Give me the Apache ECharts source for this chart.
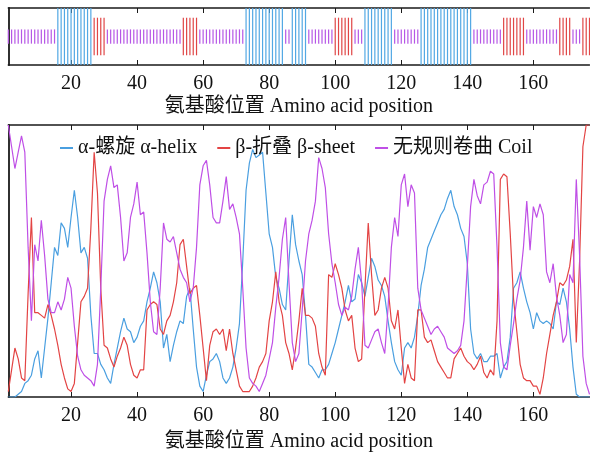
<!DOCTYPE html>
<html><head><meta charset="utf-8">
<script src="https://cdn.jsdelivr.net/npm/echarts@6/dist/echarts.min.js"></script>
<style>html,body{margin:0;padding:0;background:#fff}#c{width:590px;height:457px}</style>
</head><body><div id="c"></div>
<script>
// ---- data ----
const firstPosition = 1;
const lastPosition = 177;
const tickValues = [20, 40, 60, 80, 100, 120, 140, 160];
const axisTitle = '氨基酸位置 Amino acid position';
const seriesNames = ['α-螺旋 α-helix', 'β-折叠 β-sheet', '无规则卷曲 Coil'];

// secondary structure runs: [type, start, end]
const structureRuns = [
  ['C',1,15],['H',16,26],['E',27,30],['C',31,53],['E',54,58],['C',59,72],
  ['H',73,84],['C',85,86],['H',87,91],['C',92,99],['E',100,105],['C',106,108],
  ['H',109,117],['C',118,125],['H',126,141],['C',142,150],['E',151,157],
  ['C',158,167],['E',168,171],['C',172,174],['E',175,177]
];

const helix = [0.00,0.00,0.00,0.01,0.02,0.05,0.06,0.08,0.14,0.17,
0.07,0.18,0.29,0.42,0.55,0.52,0.64,0.62,0.55,0.66,
0.76,0.66,0.53,0.55,0.51,0.30,0.16,0.16,0.12,0.10,
0.07,0.05,0.12,0.18,0.24,0.29,0.25,0.24,0.20,0.22,
0.26,0.28,0.35,0.40,0.46,0.42,0.35,0.18,0.23,0.13,
0.19,0.24,0.28,0.27,0.37,0.40,0.25,0.11,0.04,0.02,
0.08,0.13,0.14,0.16,0.13,0.07,0.05,0.07,0.11,0.18,
0.27,0.50,0.76,0.86,0.91,0.88,0.89,0.90,0.75,0.60,
0.55,0.44,0.40,0.34,0.32,0.50,0.67,0.56,0.50,0.45,
0.30,0.12,0.11,0.09,0.07,0.10,0.10,0.12,0.16,0.20,
0.25,0.30,0.35,0.41,0.35,0.36,0.45,0.42,0.37,0.44,
0.51,0.48,0.43,0.41,0.37,0.28,0.20,0.13,0.10,0.08,
0.18,0.20,0.18,0.22,0.30,0.41,0.47,0.55,0.58,0.61,
0.64,0.67,0.69,0.73,0.76,0.70,0.67,0.62,0.59,0.49,
0.25,0.16,0.14,0.16,0.13,0.13,0.15,0.15,0.16,0.07,
0.11,0.13,0.22,0.40,0.42,0.46,0.40,0.35,0.31,0.25,
0.31,0.28,0.27,0.28,0.27,0.25,0.35,0.34,0.40,0.35,
0.25,0.11,0.01,0.00,0.00,0.00,0.00];

const sheet = [0.02,0.10,0.18,0.14,0.07,0.06,0.38,0.66,0.31,0.31,
0.30,0.29,0.34,0.30,0.25,0.19,0.12,0.07,0.03,0.02,
0.05,0.20,0.35,0.37,0.40,0.62,0.90,0.75,0.40,0.19,
0.18,0.14,0.11,0.15,0.18,0.22,0.19,0.12,0.08,0.07,
0.10,0.10,0.32,0.34,0.35,0.34,0.25,0.23,0.28,0.30,
0.35,0.42,0.56,0.58,0.48,0.38,0.40,0.41,0.30,0.18,
0.06,0.19,0.24,0.25,0.23,0.25,0.17,0.25,0.16,0.10,
0.04,0.02,0.02,0.02,0.04,0.07,0.11,0.13,0.16,0.28,
0.35,0.46,0.35,0.30,0.20,0.16,0.10,0.18,0.28,0.40,
0.30,0.30,0.29,0.26,0.16,0.11,0.08,0.45,0.44,0.49,
0.45,0.40,0.32,0.28,0.30,0.18,0.13,0.14,0.40,0.64,
0.45,0.30,0.32,0.40,0.44,0.40,0.28,0.25,0.32,0.18,
0.05,0.12,0.07,0.06,0.32,0.32,0.22,0.20,0.21,0.17,
0.13,0.11,0.09,0.07,0.07,0.14,0.16,0.18,0.15,0.13,
0.12,0.10,0.12,0.15,0.09,0.07,0.10,0.08,0.28,0.80,
0.82,0.81,0.60,0.36,0.24,0.12,0.07,0.06,0.06,0.04,
0.04,0.01,0.07,0.16,0.23,0.30,0.35,0.42,0.41,0.43,
0.48,0.58,0.20,0.50,0.92,1.00,1.00];

const coil = [1.00,0.92,0.84,0.90,0.96,0.90,0.55,0.28,0.56,0.50,
0.65,0.52,0.36,0.31,0.31,0.35,0.32,0.36,0.44,0.40,
0.26,0.15,0.10,0.08,0.07,0.06,0.04,0.12,0.40,0.72,
0.80,0.85,0.77,0.78,0.66,0.50,0.53,0.66,0.71,0.79,
0.67,0.68,0.53,0.35,0.24,0.23,0.40,0.64,0.58,0.57,
0.59,0.53,0.47,0.44,0.42,0.35,0.40,0.55,0.78,0.85,
0.87,0.78,0.66,0.64,0.64,0.72,0.81,0.69,0.71,0.66,
0.60,0.40,0.18,0.07,0.05,0.04,0.02,0.05,0.08,0.14,
0.20,0.33,0.44,0.58,0.66,0.42,0.20,0.13,0.16,0.32,
0.50,0.60,0.65,0.72,0.88,0.84,0.77,0.60,0.49,0.42,
0.34,0.30,0.33,0.32,0.37,0.47,0.55,0.42,0.19,0.18,
0.21,0.24,0.25,0.20,0.16,0.33,0.55,0.66,0.59,0.78,
0.82,0.70,0.78,0.75,0.40,0.32,0.29,0.26,0.23,0.25,
0.26,0.24,0.22,0.18,0.17,0.16,0.17,0.19,0.28,0.48,
0.70,0.80,0.74,0.71,0.78,0.79,0.83,0.82,0.55,0.20,
0.11,0.10,0.19,0.27,0.36,0.43,0.55,0.72,0.54,0.70,
0.66,0.71,0.67,0.46,0.42,0.49,0.37,0.30,0.20,0.23,
0.45,0.42,0.80,0.52,0.15,0.05,0.01];

// ---- styles ----
const FONT = "'Liberation Serif','Noto Sans CJK SC',serif";
const typeColor = {H:'#52a8e4', E:'#e04646', C:'#b657e6'};
const typeHalf = {H:1, E:0.66, C:0.25};
const lineColors = ['#4a9fe0', '#e34444', '#bf4fe6'];

// build structure list
const structure = [];
structureRuns.forEach(r => { for (let p = r[1]; p <= r[2]; p++) structure.push([p, r[0]]); });

const toXY = arr => arr.map((v, i) => [firstPosition + i, v]);

function xAx(gridIndex, position, main, gap) {
  return {
    type: 'value', gridIndex, position, min: firstPosition, max: lastPosition,
    axisLine: {show: true, onZero: false, lineStyle: {color: '#1a1a1a', width: 1.5}},
    axisTick: {show: true, inside: true, length: 5, customValues: tickValues, lineStyle: {color: '#1a1a1a', width: 1}},
    axisLabel: {show: main, customValues: tickValues, margin: 9, fontFamily: FONT, fontSize: 20, color: '#111'},
    splitLine: {show: false},
    name: main ? axisTitle : '', nameLocation: 'middle', nameGap: gap || 30,
    nameTextStyle: {fontFamily: FONT, fontSize: 20, color: '#111'}
  };
}
function yAx(gridIndex, min, max) {
  return {
    type: 'value', gridIndex, min, max,
    axisLine: {show: true, onZero: false, lineStyle: {color: '#1a1a1a', width: 1.8}},
    axisTick: {show: false}, axisLabel: {show: false}, splitLine: {show: false}
  };
}

const chart = echarts.init(document.getElementById('c'));
chart.setOption({
  animation: false,
  backgroundColor: '#fff',
  grid: [
    {left: 8.3, right: 0.5, top: 8, height: 57},
    {left: 8.3, right: 0.5, top: 125, height: 278}
  ],
  xAxis: [xAx(0, 'bottom', true, 32), xAx(0, 'top', false), xAx(1, 'bottom', true, 35), xAx(1, 'top', false)],
  yAxis: [yAx(0, -1, 1), yAx(1, 0, 1)],
  legend: {
    data: seriesNames, left: 55, top: 133, itemGap: 20, itemWidth: 13, itemHeight: 2, icon: 'rect',
    textStyle: {fontFamily: FONT, fontSize: 20, color: '#111'}
  },
  series: [
    {
      type: 'custom', xAxisIndex: 0, yAxisIndex: 0, data: structure,
      renderItem: function (params, api) {
        const x = api.value(0);
        const t = structure[params.dataIndex][1];
        const h = typeHalf[t];
        const a = api.coord([x, -h]), b = api.coord([x, h]);
        return {type: 'line', shape: {x1: a[0], y1: a[1], x2: b[0], y2: b[1]},
                style: {stroke: typeColor[t], lineWidth: 1.2}};
      }
    },
    {name: seriesNames[0], type: 'line', xAxisIndex: 2, yAxisIndex: 1, data: toXY(helix), showSymbol: false, symbol: 'none',
     lineStyle: {width: 1.2, color: lineColors[0]}, itemStyle: {color: lineColors[0]}},
    {name: seriesNames[1], type: 'line', xAxisIndex: 2, yAxisIndex: 1, data: toXY(sheet), showSymbol: false, symbol: 'none',
     lineStyle: {width: 1.2, color: lineColors[1]}, itemStyle: {color: lineColors[1]}},
    {name: seriesNames[2], type: 'line', xAxisIndex: 2, yAxisIndex: 1, data: toXY(coil), showSymbol: false, symbol: 'none',
     lineStyle: {width: 1.2, color: lineColors[2]}, itemStyle: {color: lineColors[2]}}
  ]
});
</script></body></html>
